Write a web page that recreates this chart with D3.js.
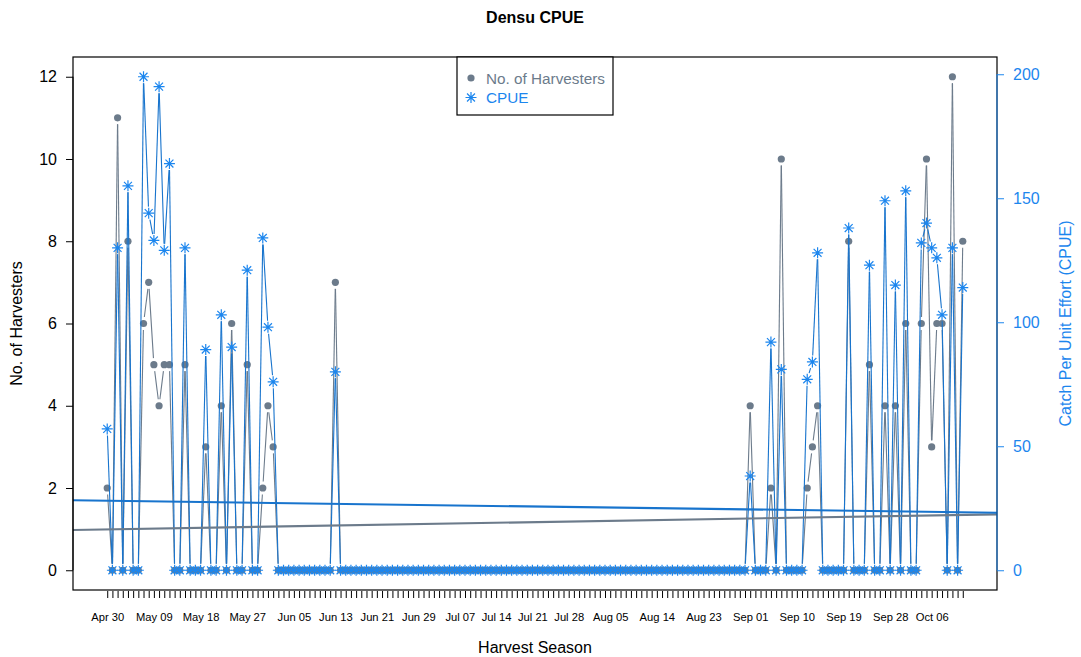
<!DOCTYPE html>
<html><head><meta charset="utf-8">
<script src="https://cdn.jsdelivr.net/npm/d3@7"></script>
<style>body{margin:0;background:#fff}svg{display:block;font-family:"Liberation Sans",Arial,sans-serif}</style>
</head><body><svg id="c" width="1081" height="657"></svg>
<script>
const title = "Densu CPUE";
const startDate = "2021-04-30";
const harvesters = [
 2,0,11,0,8,0,0,6,7,5,
 4,5,5,0,0,5,0,0,0,3,
 0,0,4,0,6,0,0,5,0,0,
 2,4,3,0,0,0,0,0,0,0,
 0,0,0,0,7,0,0,0,0,0,
 0,0,0,0,0,0,0,0,0,0,
 0,0,0,0,0,0,0,0,0,0,
 0,0,0,0,0,0,0,0,0,0,
 0,0,0,0,0,0,0,0,0,0,
 0,0,0,0,0,0,0,0,0,0,
 0,0,0,0,0,0,0,0,0,0,
 0,0,0,0,0,0,0,0,0,0,
 0,0,0,0,4,0,0,0,2,0,
 10,0,0,0,0,2,3,4,0,0,
 0,0,0,8,0,0,0,5,0,0,
 4,0,4,0,6,0,0,6,10,3,
 6,6,0,12,0,8];
const cpue = [
 57,0,130,0,155,0,0,199,144,133,
 195,129,164,0,0,130,0,0,0,89,
 0,0,103,0,90,0,0,121,0,0,
 134,98,76,0,0,0,0,0,0,0,
 0,0,0,0,80,0,0,0,0,0,
 0,0,0,0,0,0,0,0,0,0,
 0,0,0,0,0,0,0,0,0,0,
 0,0,0,0,0,0,0,0,0,0,
 0,0,0,0,0,0,0,0,0,0,
 0,0,0,0,0,0,0,0,0,0,
 0,0,0,0,0,0,0,0,0,0,
 0,0,0,0,0,0,0,0,0,0,
 0,0,0,0,38,0,0,0,92,0,
 81,0,0,0,0,77,84,128,0,0,
 0,0,0,138,0,0,0,123,0,0,
 149,0,115,0,153,0,0,132,140,130,
 126,103,0,130,0,114];
const xTickLabels = ["Apr 30","May 09","May 18","May 27","Jun 05","Jun 13","Jun 21","Jun 29","Jul 07","Jul 14","Jul 21","Jul 28","Aug 05","Aug 14","Aug 23","Sep 01","Sep 10","Sep 19","Sep 28","Oct 06"];
const leftTicks = [0,2,4,6,8,10,12];
const rightTicks = [0,50,100,150,200];
// fitted trend values at the start and end of the plotted range
const trendHarvesters = [0.98, 1.36];
const trendCPUE = [28.2, 23.2];

const GRAY = "#6C7B8B", BLUE = "#1874CD", LBLUE = "#1C86EE";
const L = 73, R = 997, T = 57, B = 590;
const svg = d3.select("#c");

const parse = d3.timeParse("%Y-%m-%d");
const d0 = parse(startDate);
const dates = harvesters.map((_, i) => d3.timeDay.offset(d0, i));
const dEnd = dates[dates.length - 1];
const spanDays = d3.timeDay.count(d0, dEnd);
const pad = spanDays * 0.04;
const x = d3.scaleTime()
  .domain([new Date(+d0 - pad * 864e5), new Date(+dEnd + pad * 864e5)])
  .range([L, R]);
function padDom(lo, hi){ const p = (hi - lo) * 0.04; return [lo - p, hi + p]; }
const yL = d3.scaleLinear().domain(padDom(0, d3.max(harvesters))).range([B, T]);
const yR = d3.scaleLinear().domain(padDom(0, d3.max(cpue))).range([B, T]);

// series drawn R "type=b" style (gaps around points)
function drawSeries(vals, y, color, width){
  const g = svg.append("g");
  const gap = 6.5;
  for (let i = 0; i < vals.length - 1; i++){
    const x1 = x(dates[i]), y1 = y(vals[i]), x2 = x(dates[i+1]), y2 = y(vals[i+1]);
    const dx = x2 - x1, dy = y2 - y1, d = Math.hypot(dx, dy);
    if (d <= 2 * gap) continue;
    const ux = dx / d, uy = dy / d;
    g.append("line").attr("x1", x1 + ux*gap).attr("y1", y1 + uy*gap)
      .attr("x2", x2 - ux*gap).attr("y2", y2 - uy*gap)
      .attr("stroke", color).attr("stroke-width", width);
  }
  return g;
}
drawSeries(harvesters, yL, GRAY, 1.1);
svg.append("g").selectAll("circle").data(harvesters).join("circle")
  .attr("cx", (d, i) => x(dates[i])).attr("cy", d => yL(d)).attr("r", 3.6).attr("fill", GRAY);

drawSeries(cpue, yR, BLUE, 1.1);
function star(cx, cy, s){
  const a = s * 0.72;
  return `M${cx-s},${cy}L${cx+s},${cy}M${cx},${cy-s}L${cx},${cy+s}` +
         `M${cx-a},${cy-a}L${cx+a},${cy+a}M${cx-a},${cy+a}L${cx+a},${cy-a}`;
}
svg.append("g").selectAll("path").data(cpue).join("path")
  .attr("d", (d, i) => star(x(dates[i]), yR(d), 5.5))
  .attr("stroke", LBLUE).attr("stroke-width", 1.2).attr("fill", "none");

// trend lines across the plot
const xd = x.domain();
svg.append("line").attr("x1", x(xd[0])).attr("x2", x(xd[1]))
  .attr("y1", yL(trendHarvesters[0])).attr("y2", yL(trendHarvesters[1]))
  .attr("stroke", GRAY).attr("stroke-width", 2.1);
svg.append("line").attr("x1", x(xd[0])).attr("x2", x(xd[1]))
  .attr("y1", yR(trendCPUE[0])).attr("y2", yR(trendCPUE[1]))
  .attr("stroke", BLUE).attr("stroke-width", 2.1);

// box
svg.append("rect").attr("x", L).attr("y", T).attr("width", R - L).attr("height", B - T)
  .attr("fill", "none").attr("stroke", "#000").attr("stroke-width", 1.2);

// left axis
const ax = svg.append("g").attr("transform", `translate(${L},0)`)
  .call(d3.axisLeft(yL).tickValues(leftTicks).tickSize(7).tickPadding(9));
ax.selectAll("text").attr("font-size", 16).attr("fill", "#000").attr("font-family", "Liberation Sans, Arial");
ax.selectAll("line,path").attr("stroke", "#000");
ax.select("path").attr("d", `M0,${yL(0)}V${yL(12)}`);

// right axis
const ar = svg.append("g").attr("transform", `translate(${R},0)`)
  .call(d3.axisRight(yR).tickValues(rightTicks).tickSize(7).tickPadding(9));
ar.selectAll("text").attr("font-size", 16).attr("fill", LBLUE).attr("font-family", "Liberation Sans, Arial");
ar.selectAll("line").attr("stroke", LBLUE);
ar.select("path").attr("d", `M0,${yR(0)}V${yR(200)}`).attr("stroke", LBLUE);

// bottom axis: a tick for every day, labels on selected dates
const tickFmt = d3.timeFormat("%b %d");
const labelSet = new Set(xTickLabels);
const axb = svg.append("g").attr("transform", `translate(0,${B})`)
  .call(d3.axisBottom(x).tickValues(dates).tickSize(8).tickPadding(15)
    .tickFormat(d => labelSet.has(tickFmt(d)) ? tickFmt(d) : ""));
axb.select("path").remove();
axb.selectAll("line").attr("stroke", "#000").attr("y1", 1);
axb.selectAll("text").attr("font-size", 11.2).attr("fill", "#000").attr("font-family", "Liberation Sans, Arial");

// titles
svg.append("text").attr("x", (L + R) / 2).attr("y", 23).attr("text-anchor", "middle")
  .attr("font-size", 16).attr("font-weight", "bold").text(title);
svg.append("text").attr("x", (L + R) / 2).attr("y", 653).attr("text-anchor", "middle")
  .attr("font-size", 16).text("Harvest Season");
svg.append("text").attr("transform", `translate(22,${(T + B) / 2}) rotate(-90)`)
  .attr("text-anchor", "middle").attr("font-size", 16).text("No. of Harvesters");
svg.append("text").attr("transform", `translate(1071,${(T + B) / 2}) rotate(-90)`)
  .attr("text-anchor", "middle").attr("font-size", 16).attr("fill", LBLUE).text("Catch Per Unit Effort (CPUE)");

// legend
const lg = svg.append("g");
lg.append("rect").attr("x", 457).attr("y", T).attr("width", 156).attr("height", 58)
  .attr("fill", "#fff").attr("stroke", "#000").attr("stroke-width", 1.2);
lg.append("circle").attr("cx", 471).attr("cy", 78).attr("r", 3.6).attr("fill", GRAY);
lg.append("text").attr("x", 486).attr("y", 83.5).attr("font-size", 15.3).attr("fill", GRAY).text("No. of Harvesters");
lg.append("path").attr("d", star(471, 97.5, 5.5)).attr("stroke", LBLUE).attr("stroke-width", 1.2).attr("fill", "none");
lg.append("text").attr("x", 486).attr("y", 103).attr("font-size", 15.3).attr("fill", LBLUE).text("CPUE");
</script></body></html>
